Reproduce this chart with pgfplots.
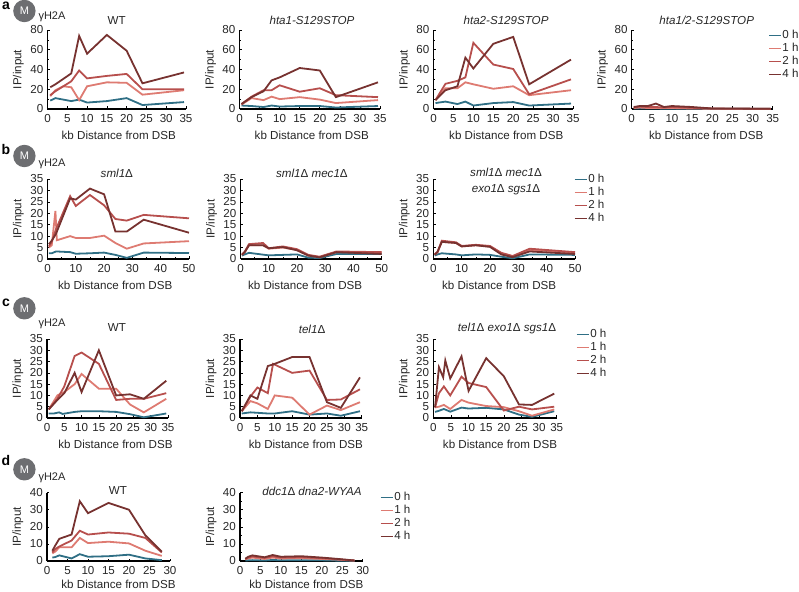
\documentclass[border=0pt]{standalone}
\usepackage{fontspec}
\setmainfont{Liberation Sans}
\usepackage{pgfplots}
\pgfplotsset{compat=1.18}
\definecolor{hzero}{HTML}{2F6F85}
\definecolor{hone}{HTML}{DE7B72}
\definecolor{htwo}{HTML}{B74F4D}
\definecolor{hfour}{HTML}{773230}
\definecolor{badge}{HTML}{6D6E71}
\pgfplotsset{
  every axis title shift=0pt,
  h0/.style={color=hzero,line width=1.8pt,no markers},
  h1/.style={color=hone,line width=1.8pt,no markers},
  h2/.style={color=htwo,line width=1.8pt,no markers},
  h4/.style={color=hfour,line width=1.8pt,no markers},
  tit/.style n args={3}{title={#3},title style={at={(axis description cs:#1,1)},yshift=#2}},
  kb/.style={
    scale only axis,
    axis lines=left,
    axis line style={black,line width=1.1pt,-},
    every tick/.style={black,line width=0.6pt},
    major tick length=2.5pt,
    minor tick length=1.5pt,
    tick align=inside,
    xmin=0,ymin=0,
    clip=false,
    enlargelimits=false,
    /pgf/number format/assume math mode=true,
    tick label style={font=\fontsize{11.6}{13}\selectfont,text=black!85},
    xticklabel style={inner sep=1pt,yshift=-4pt},
    yticklabel style={inner sep=4pt},
    xlabel={kb Distance from DSB},
    ylabel={IP/input},
    every axis x label/.style={at={(axis description cs:0.5,0)},anchor=center,yshift=-26pt,font=\fontsize{11.6}{13}\selectfont,text=black!85},
    every axis y label/.style={at={(axis description cs:0,0.5)},xshift=-29pt,rotate=90,anchor=center,font=\fontsize{11.6}{13}\selectfont,text=black!85},
    title style={anchor=center,font=\fontsize{11.6}{16}\selectfont,align=center,text=black!85},
    legend cell align=left,
    legend style={draw=none,fill=none,inner sep=0pt,outer sep=0pt,anchor=north west,
      font=\fontsize{11.6}{13}\selectfont,row sep=2.1pt,text=black!85,
      nodes={inner sep=0.5pt}},
    legend image code/.code={\draw[#1,line width=1.8pt] (0pt,0pt)--(9pt,0pt);\path (0pt,0pt)--(12pt,0pt);},
  },
  ya/.style={ymax=80,ytick={0,20,40,60,80},minor y tick num=1,height=79pt},
  yb/.style={ymax=35,ytick={0,5,...,35},height=80pt},
  yc/.style={ymax=35,ytick={0,5,...,35},height=79pt},
  yd/.style={ymax=40,ytick={0,10,20,30,40},minor y tick num=1,height=68.3pt},
  x35/.style={xmax=35,xtick={0,5,...,35}},
  x50/.style={xmax=50,xtick={0,10,...,50},minor x tick num=1},
  x30/.style={xmax=30,xtick={0,5,...,30}},
}
\begin{document}
\begin{tikzpicture}[x=1pt,y=1pt]
\useasboundingbox (0,0) rectangle (799,591);
% panel a
\begin{axis}[kb,ya,x35,at={(47.5pt,482pt)},width=138.5pt,tit={0.5}{9.5pt}{WT},xlabel style={xshift=2pt}]
\addplot[h0] coordinates {(0.7,8.5)(2,11)(6,8)(8,9.5)(10,6.5)(15,8)(20,11)(24,4)(34.5,7)};
\addplot[h1] coordinates {(0.7,13)(2,19)(4,23)(6,22)(8,9)(10,23)(15,27)(20,26.5)(24,14.5)(34.5,19)};
\addplot[h2] coordinates {(0.7,14)(2,18)(6,28)(8,39)(10,31)(15,33.5)(20,35.5)(24,20)(34.5,20)};
\addplot[h4] coordinates {(0.7,22)(2,25)(6,36)(8,74)(10,56)(15,75)(20,59)(24,26)(34.5,37)};
\end{axis}
\begin{axis}[kb,ya,x35,at={(239.5pt,482pt)},width=140.5pt,tit={0.516}{9.5pt}{\itshape hta1-S129STOP},xlabel style={xshift=2pt}]
\addplot[h0] coordinates {(0.5,3.5)(3,3)(6,2)(8,3.5)(10,2.5)(15,3)(20,3)(24,1.5)(34.5,3)};
\addplot[h1] coordinates {(0.5,4.5)(3,11)(6,9)(8,12.5)(10,10)(15,12)(20,9.5)(24,6)(34.5,9)};
\addplot[h2] coordinates {(0.5,5)(3,12.5)(6,19)(8,19)(10,24)(15,17.5)(20,21)(24,14)(34.5,12)};
\addplot[h4] coordinates {(0.5,5)(3,12)(6,18)(8,29)(10,32)(15,41.5)(20,39)(24,12)(34.5,27)};
\end{axis}
\begin{axis}[kb,ya,x35,at={(433.5pt,482pt)},width=139.5pt,tit={0.52}{9.5pt}{\itshape hta2-S129STOP},xlabel style={xshift=3pt}]
\addplot[h0] coordinates {(0.5,6)(3,7.5)(6,5)(8,7.5)(10,3.5)(15,6)(20,7)(24,3.5)(34.5,5.5)};
\addplot[h1] coordinates {(0.5,9)(3,21)(6,21)(8,27)(10,25)(15,20.5)(20,23)(24,14)(34.5,19)};
\addplot[h2] coordinates {(0.5,9)(3,25.5)(6,28.5)(8,32)(10,67)(15,45)(20,40.5)(24,15)(34.5,30)};
\addplot[h4] coordinates {(0.5,9)(3,19)(6,23)(8,52)(10,41)(15,66)(20,73)(24,25)(34.5,50)};
\end{axis}
\begin{axis}[kb,ya,x35,at={(631.7pt,482pt)},width=141pt,tit={0.532}{9.5pt}{\itshape hta1/2-S129STOP},xlabel style={xshift=4pt},
  legend style={at={(axis description cs:0.968,1.0)}}]
\addplot[h0] coordinates {(0.5,0.5)(2,0.5)(4,0.5)(6,0.5)(8,0.3)(10,0.3)(15,0.2)(20,0.1)(24,0.1)(34.5,0.1)};
\addplot[h1] coordinates {(0.5,1)(2,1.5)(4,1)(6,1)(8,1)(10,1)(15,0.5)(20,0.3)(24,0.2)(34.5,0.1)};
\addplot[h2] coordinates {(0.5,1.5)(2,2.5)(4,2)(6,2)(8,1.5)(10,2)(15,1.2)(20,0.5)(24,0.3)(34.5,0.2)};
\addplot[h4] coordinates {(0.5,2)(2,3)(4,3)(6,5.5)(8,2)(10,3)(15,2)(20,0.5)(24,0.5)(34.5,0.2)};
\legend{0 h,1 h,2 h,4 h}
\end{axis}
% panel b
\begin{axis}[kb,yb,x50,at={(47.5pt,332pt)},width=141.5pt,tit={0.49}{6pt}{\itshape sml1\textup{Δ}},xlabel style={xshift=-3pt}]
\addplot[h0] coordinates {(0.5,2.5)(1.5,2.5)(3,3.3)(8,3)(10,2.3)(15,2.5)(20,2.8)(24,1.8)(28,0.5)(34,2.8)(50,2.6)};
\addplot[h1] coordinates {(0.5,5)(1.5,6)(2.8,21)(3.3,8.2)(8,10)(10,9.2)(15,9.2)(20,10.2)(24,7)(28,4.5)(34,6.8)(50,7.8)};
\addplot[h2] coordinates {(0.5,5.5)(1.5,7.5)(3,13)(8,27.5)(10,23.2)(15,28)(20,23.5)(24,17.5)(28,16.8)(34,19.3)(50,17.8)};
\addplot[h4] coordinates {(0.5,6.5)(1.5,8)(3,11)(8,26.5)(10,26)(15,30.8)(20,28.3)(24,12)(28,12)(34,17.2)(50,11.5)};
\end{axis}
\begin{axis}[kb,yb,x50,at={(240.5pt,332pt)},width=141.2pt,tit={0.506}{6pt}{\itshape sml1\textup{Δ} mec1\textup{Δ}},xlabel style={xshift=-6pt}]
\addplot[h0] coordinates {(0.5,1.5)(1.5,2)(3,2.7)(8,1.9)(10,1.6)(15,1.8)(20,2)(24,0.6)(28,0.4)(34,2.2)(50,2.2)};
\addplot[h1] coordinates {(0.5,1.8)(1.5,3)(3,6)(8,6)(10,4.5)(15,5)(20,4)(24,1.5)(28,0.8)(34,3)(50,2.8)};
\addplot[h2] coordinates {(0.5,2)(1.5,3.2)(3,6.5)(8,7)(10,4.7)(15,5.5)(20,4.3)(24,1.8)(28,1)(34,3.3)(50,3)};
\addplot[h4] coordinates {(0.5,1.8)(1.5,3)(3,6)(8,6)(10,4.7)(15,5.2)(20,3.8)(24,1.5)(28,0.7)(34,3)(50,2.2)};
\end{axis}
\begin{axis}[kb,yb,x50,at={(433.3pt,332pt)},width=141.7pt,tit={0.513}{-3pt}{\itshape sml1\textup{Δ} mec1\textup{Δ}\\\itshape exo1\textup{Δ} sgs1\textup{Δ}},xlabel style={xshift=-5pt},
  legend style={at={(axis description cs:0.993,1.0625)}}]
\addplot[h0] coordinates {(0.5,1.5)(1.5,2)(3,2.5)(8,2)(10,1.6)(15,2)(20,1.8)(24,1)(28,0.3)(34,2)(50,1.8)};
\addplot[h1] coordinates {(0.5,2)(1.5,3)(3,7.5)(8,7)(10,5.5)(15,6)(20,5.5)(24,2.5)(28,1.2)(34,4)(50,2.8)};
\addplot[h2] coordinates {(0.5,2)(1.5,3)(3,8)(8,7.3)(10,5.7)(15,6.2)(20,5.7)(24,2.7)(28,1.3)(34,4.5)(50,3)};
\addplot[h4] coordinates {(0.5,1.8)(1.5,3.2)(3,7.5)(8,7)(10,5.5)(15,6)(20,5.3)(24,2)(28,0.8)(34,3.3)(50,2.2)};
\legend{0 h,1 h,2 h,4 h}
\end{axis}
% panel c
\begin{axis}[kb,yc,x35,at={(47pt,173pt)},width=121pt,tit={0.578}{11pt}{WT},xlabel style={xshift=8pt}]
\addplot[h0] coordinates {(0.5,2)(2,2)(3.5,2.5)(4.5,1.8)(8,2.7)(10,3)(15,3)(20,2.7)(24,1.7)(28,0.3)(34.5,2)};
\addplot[h1] coordinates {(0.5,3.8)(3,10)(5,11.5)(8,15)(10,19.5)(15,13)(20,13)(24,6)(28,2.5)(34.5,8.5)};
\addplot[h2] coordinates {(0.5,3.8)(3,8.5)(5,14)(8,27.5)(10,29)(15,24)(20,8)(24,8.5)(28,8.5)(34.5,11)};
\addplot[h4] coordinates {(0.5,3.8)(3,8)(5,11)(8,20)(10,11.5)(15,30)(20,10)(24,10.5)(28,8.5)(34.5,16.5)};
\end{axis}
\begin{axis}[kb,yc,x35,at={(240pt,173pt)},width=121.7pt,tit={0.592}{10pt}{\itshape tel1\textup{Δ}},xlabel style={xshift=5pt}]
\addplot[h0] coordinates {(0.5,2)(3,2.5)(5,2.3)(8,2)(10,2)(15,3)(20,1.5)(25,2)(29,1)(34.5,3)};
\addplot[h1] coordinates {(0.5,3)(3,7.5)(5,6.5)(8,4)(10,10)(15,9)(20,1.5)(25,5.5)(29,3.5)(34.5,7)};
\addplot[h2] coordinates {(0.5,3)(3,9.5)(5,13.5)(8,11)(9.5,24)(15,20)(20,21)(25,8)(29,8.2)(34.5,12.7)};
\addplot[h4] coordinates {(0.5,3)(3,10)(5,8.5)(8,23)(10,24)(15,27)(20,27)(25,7)(29,4.5)(34.5,18)};
\end{axis}
\begin{axis}[kb,yc,x35,at={(433.3pt,173pt)},width=123.4pt,tit={0.597}{10pt}{\itshape tel1\textup{Δ} exo1\textup{Δ} sgs1\textup{Δ}},xlabel style={xshift=5pt},
  legend style={at={(axis description cs:1.156,1.127)}}]
\addplot[h0] coordinates {(0.5,2.7)(1.6,3.2)(3,4)(4.8,2.8)(8,4.6)(10,4.2)(15,4.5)(20,3.8)(24.3,1.5)(28,0.5)(34.3,3)};
\addplot[h1] coordinates {(0.5,4.7)(1.6,5)(3,5.8)(4.8,4)(8,8)(10,6.8)(15,5.3)(20,4.8)(24.3,3)(28,1)(34.3,3.8)};
\addplot[h2] coordinates {(0.5,4.7)(1.6,11)(3,14)(4.8,10)(8,18.3)(10,15.5)(15,13.7)(20,3.3)(24.3,5)(28,3.8)(34.3,5)};
\addplot[h4] coordinates {(0.5,4.7)(1.6,22.5)(2.8,18)(3.4,25.5)(4.8,17.5)(8,27.3)(10,12)(15,26.5)(20,18.5)(24.3,6)(28,5.8)(34.3,10.8)};
\legend{0 h,1 h,2 h,4 h}
\end{axis}
% panel d
\begin{axis}[kb,yd,x30,at={(47pt,30pt)},width=123pt,tit={0.577}{1.7pt}{WT},xlabel style={xshift=10pt,yshift=2.5pt}]
\addplot[h0] coordinates {(1.3,2)(2,2.3)(3,3.3)(6,1.5)(8,4)(10,2.5)(15,2.8)(20,3.7)(24,1.5)(28,0.5)};
\addplot[h1] coordinates {(1.3,4.5)(2,5.5)(3,8)(6,8)(8,13.5)(10,10.5)(15,11.3)(20,10.3)(24,6)(28,3)};
\addplot[h2] coordinates {(1.3,5)(2,7)(3,8.5)(6,12)(8,17.7)(10,15.5)(15,16.7)(20,16)(24,13.5)(28,5)};
\addplot[h4] coordinates {(1.3,6)(2,9)(3,13)(6,15.5)(8,35)(10,28)(15,34)(20,30)(24,15)(28,5.5)};
\end{axis}
\begin{axis}[kb,yd,x30,at={(240pt,30pt)},width=122.7pt,tit={0.587}{1.7pt}{\itshape ddc1\textup{Δ} dna2-WYAA},xlabel style={xshift=5pt,yshift=2.5pt},
  legend style={at={(axis description cs:1.141,1.011)}}]
\addplot[h0] coordinates {(1.3,0.3)(2,0.4)(3,0.5)(6,0.3)(8,0.6)(10,0.4)(15,0.4)(20,0.4)(24,0.2)(28,0.1)};
\addplot[h1] coordinates {(1.3,1)(2,1.5)(3,2)(6,1.2)(8,2)(10,1.5)(15,1.7)(20,1.2)(24,0.8)(28,0.2)};
\addplot[h2] coordinates {(1.3,1.2)(2,2)(3,2.7)(6,1.8)(8,2.8)(10,2)(15,2.2)(20,1.7)(24,1)(28,0.3)};
\addplot[h4] coordinates {(1.3,1.3)(2,2.5)(3,3.3)(6,2.2)(8,3.5)(10,2.5)(15,2.8)(20,2)(24,1.2)(28,0.3)};
\legend{0 h,1 h,2 h,4 h}
\end{axis}
% panel letters, badges
\foreach \l/\ly/\by/\gy in {a/585/580/574,b/441/435/427.5,c/288/282.7/267,d/131/121.7/113.3}{
  \node[anchor=center,font=\fontsize{14}{14}\selectfont\bfseries] at (6,\ly) {\l};
  \fill[badge] (24.4,\by) circle (11.2);
  \node[white,font=\fontsize{11}{11}\selectfont] at (24.4,\by) {M};
  \node[font=\fontsize{11}{11}\selectfont,text=black!85] at (52,\gy) {γH2A};
}
\end{tikzpicture}
\end{document}
